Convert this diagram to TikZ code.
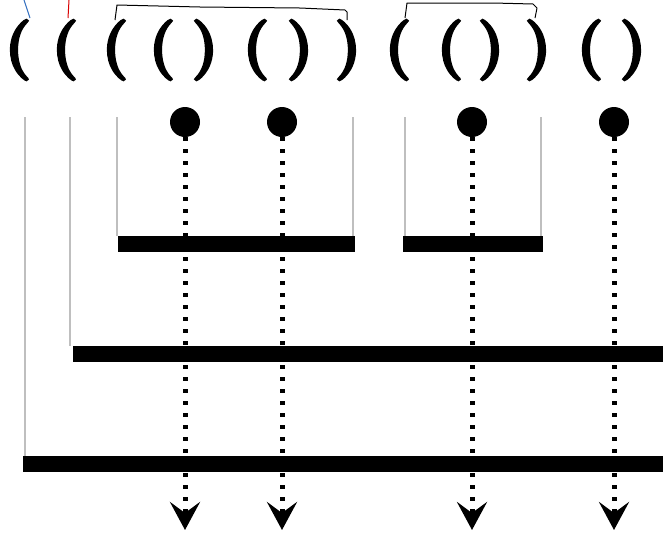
\documentclass[tikz,border=0pt]{standalone}
\usepackage{fontspec}
\newfontfamily\parenfont[FakeBold=4]{lmroman10-bold.otf}
\usetikzlibrary{arrows.meta}
\begin{document}
\begin{tikzpicture}[x=1pt,y=-1pt,
  paren/.style={inner sep=0pt, font=\parenfont\fontsize{60}{60}\selectfont},
  bar/.style={fill=black, draw=none, inner sep=0pt, minimum height=16pt, anchor=north west},
  guide/.style={draw=black!25, line width=1.5pt},
  dotline/.style={line width=5pt, dash pattern=on 4pt off 8pt,
    -{Stealth[length=28pt,width=30pt,inset=11pt]}},
  ball/.style={circle, fill=black, minimum size=30pt, inner sep=0pt},
  hand/.style={line width=1pt, line join=round}]
\useasboundingbox (0,0) rectangle (663,550);
% parentheses
\foreach \x/\c [count=\i] in {18/(,65/(,115/(,162/(,205/),256/(,300/),348/),398/(,450/(,491/),538/),590/(,633/)}
  \node[paren] (p\i) at (\x,50) {\c};
% hand-drawn marks
\coordinate (bl0) at (24,0); \coordinate (bl1) at (30,18);
\coordinate (rd0) at (69,0); \coordinate (rd1) at (68,18);
\draw[hand, draw={rgb,255:red,50;green,110;blue,190}] (bl0) -- (bl1);
\draw[hand, draw=red!85!black] (rd0) -- (rd1);
\coordinate (k1a) at (115,20); \coordinate (k1b) at (347,20);
\coordinate (k2a) at (405,18); \coordinate (k2b) at (535,18);
\draw[hand] (k1a) -- (117,5) -- (200,7) -- (300,8) -- (345,10) -- (347,12) -- (k1b);
\draw[hand] (k2a) -- (407,3) -- (493,3) -- (533,4) -- (537,8) -- (k2b);
% bars
\node[bar, minimum width=237pt] (b1) at (118,236) {};
\node[bar, minimum width=140pt] (b2) at (403,236) {};
\node[bar, minimum width=600pt] (b3) at (73,346) {};
\node[bar, minimum width=650pt] (b4) at (23,456) {};
% guide lines
\coordinate (g1) at (25,117);  \draw[guide] (g1) -- (g1 |- b4.north);
\coordinate (g2) at (70,117);  \draw[guide] (g2) -- (g2 |- b3.north);
\coordinate (g3) at (117,117); \draw[guide] (g3) -- (g3 |- b1.north);
\coordinate (g4) at (353,117); \draw[guide] (g4) -- (g4 |- b1.north);
\coordinate (g5) at (405,117); \draw[guide] (g5) -- (g5 |- b2.north);
\coordinate (g6) at (541,117); \draw[guide] (g6) -- (g6 |- b2.north);
% balls and dotted arrows
\foreach \x [count=\i] in {185,282,472,614}{
  \node[ball] (c\i) at (\x,122) {};
  \coordinate (e\i) at (\x,530);
  \draw[dotline] (c\i.south) -- (e\i);
}
\end{tikzpicture}
\end{document}
